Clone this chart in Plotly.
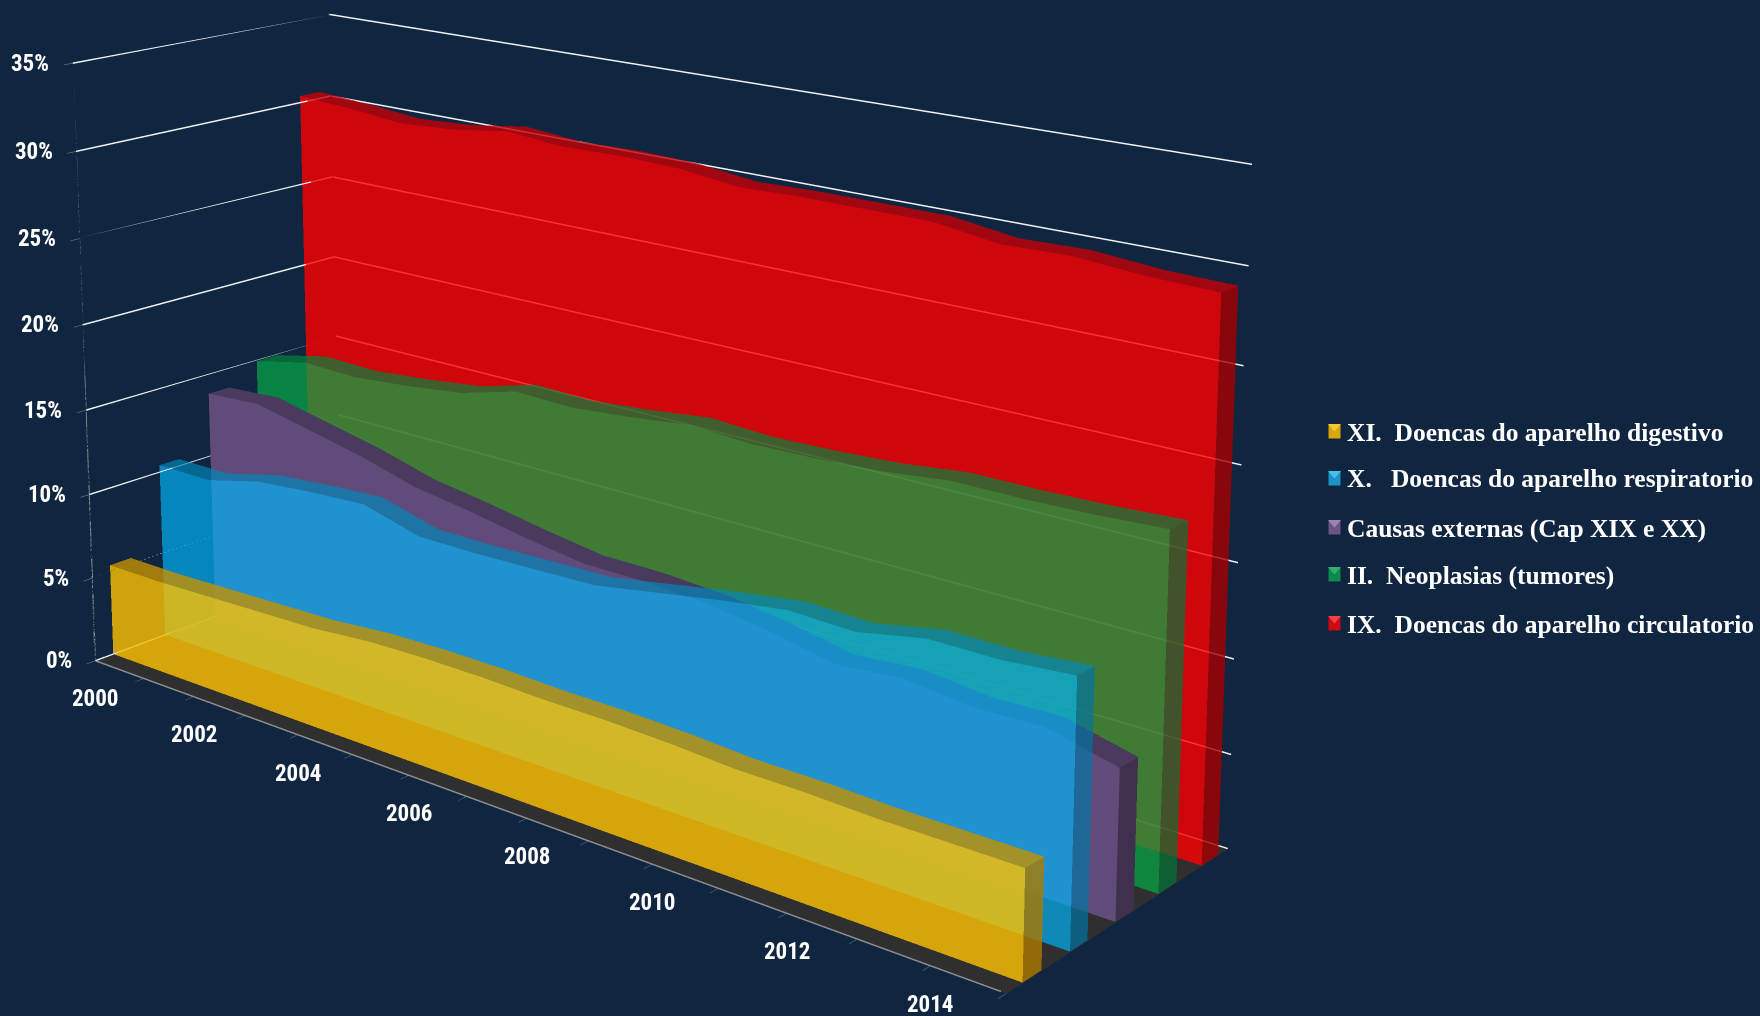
import plotly.graph_objects as go

years = list(range(2000, 2016))
xi_digestivo = [5.4, 5.4, 5.5, 5.6, 5.7, 6.0, 6.1, 6.1, 6.0, 6.0, 5.9, 5.7, 5.7, 5.6, 5.6, 5.6]
x_respiratorio = [10.4, 10.4, 11.2, 11.5, 11.7, 10.8, 10.8, 10.9, 11.0, 11.6, 12.2, 12.7, 12.6, 13.3, 13.3, 13.6]
causas_externas = [13.8, 14.0, 13.3, 12.6, 11.7, 11.2, 10.6, 10.1, 10.1, 9.9, 9.4, 8.7, 9.0, 8.6, 8.7, 7.8]
ii_neoplasias = [14.9, 15.6, 15.5, 15.8, 16.2, 17.1, 17.0, 17.3, 17.7, 17.5, 17.6, 17.8, 18.2, 18.2, 18.3, 18.5]
ix_circulatorio = [30.4, 30.2, 29.9, 30.1, 30.6, 30.3, 30.4, 30.3, 29.9, 30.0, 30.0, 30.0, 29.5, 29.6, 29.3, 29.2]
z_ticks = [0, 5, 10, 15, 20, 25, 30, 35]
x_labels = [2000, 2002, 2004, 2006, 2008, 2010, 2012, 2014]
names = ["XI.\u00a0 Doencas do aparelho digestivo", "X.\u00a0\u00a0 Doencas do aparelho respiratorio",
         "Causas externas (Cap XIX e XX)", "II.\u00a0 Neoplasias (tumores)", "IX.\u00a0 Doencas do aparelho circulatorio"]

BG = "#10253F"
# value list, depth start/end, front/top/side colour, opacity  (drawn back to front)
series = [
    (ix_circulatorio, 0.872, 0.953, "#FF0000", "#C40006", "#A50000", 0.8),
    (ii_neoplasias, 0.666, 0.751, "#03AC46", "#02833B", "#027436", 0.7),
    (causas_externas, 0.469, 0.551, "#604B7A", "#4A3A5E", "#40304F", 1.0),
    (x_respiratorio, 0.269, 0.345, "#00B4F7", "#0087BB", "#0074A5", 0.68),
    (xi_digestivo, 0.068, 0.147, "#FFC200", "#C49100", "#AB7A00", 0.8),
]
gx, gy, gz = [], [], []
for t in z_ticks:
    gx += [years[0], years[0], years[-1], None]
    gy += [0, 1, 1, None]
    gz += [t, t, t, None]
data = [
    go.Scatter3d(x=gx, y=gy, z=gz, mode='lines', line=dict(color="#F2F2F2", width=3), hoverinfo='skip', showlegend=False),
    go.Scatter3d(x=[years[0], years[0], None, years[0], years[-1]], y=[0, 0, None, 0, 0], z=[0, 35, None, 0, 0], mode='lines',
                 line=dict(color="#8C8C8C", width=3), hoverinfo='skip', showlegend=False),
]
n = len(years)
for z, vf, vb, cf, ct, cs, op in series:
    x = years + years + years + [years[-1]]
    y = [vf] * n + [vf] * n + [vb] * n + [vb]
    zz = [0] * n + z + z + [0]
    I, J, K, col = [], [], [], []
    for a in range(n - 1):
        I += [a, a]; J += [a + 1, n + a + 1]; K += [n + a + 1, n + a]; col += [cf, cf]
        I += [n + a, n + a]; J += [n + a + 1, 2 * n + a + 1]; K += [2 * n + a + 1, 2 * n + a]; col += [ct, ct]
    I += [n - 1, n - 1]; J += [3 * n, 3 * n - 1]; K += [3 * n - 1, 2 * n - 1]; col += [cs, cs]
    data.append(go.Mesh3d(x=x, y=y, z=zz, i=I, j=J, k=K, facecolor=col, opacity=op, flatshading=True, hoverinfo='skip',
                          lighting=dict(ambient=1, diffuse=0, specular=0, roughness=1, fresnel=0), showscale=False))

W, H, OFF = 1760, 2667, 1260
def py(p):
    return 1 - (p + OFF) / H
ann, shapes = [], []
for t, yy, c, c2 in zip(names, [432, 479, 528, 575, 624],
                        ["#D9A60C", "#1B92C7", "#6D5488", "#0E8A4D", "#CE0A14"],
                        ["#F0C83A", "#45C0E8", "#9A86B4", "#2FB070", "#F04048"]):
    ann.append(dict(text=t, x=1345 / W, y=py(yy), xref='paper', yref='paper', xanchor='left', yanchor='middle', showarrow=False,
                    font=dict(family="Liberation Serif", size=25.5, color="white", weight=700)))
    x0, x1, y0, y1 = 1328 / W, 1341 / W, py(yy + 7), py(yy - 8)
    shapes.append(dict(type='rect', xref='paper', yref='paper', x0=x0, x1=x1, y0=y0, y1=y1, fillcolor=c, line=dict(color=BG, width=1)))
    shapes.append(dict(type='path', xref='paper', yref='paper', path="M %f %f L %f %f L %f %f Z" % (x0, y1, x1, y1, (x0 + x1) / 2, (y0 + y1) / 2), fillcolor=c2, line=dict(width=0)))
scene_ann = []
lf = dict(family="Roboto Condensed, Liberation Sans", size=23, color="white", weight=700)
for t in z_ticks:
    scene_ann.append(dict(x=2000.01, y=0, z=t, text="%d%%" % t, showarrow=False, xanchor='right', xshift=-22, font=lf))
for t in x_labels:
    scene_ann.append(dict(x=t + 0.01, y=0, z=0, text=str(t), showarrow=False, xanchor='center', yshift=-38, font=lf))

fig = go.Figure(data)
ax0 = dict(showbackground=False, showgrid=False, zeroline=False, showspikes=False, title=dict(text=""), showticklabels=False)
fig.update_layout(width=W, height=H, margin=dict(l=0, r=0, t=0, b=0, pad=0), paper_bgcolor=BG, plot_bgcolor=BG, showlegend=False,
    annotations=ann, shapes=shapes,
    scene=dict(domain=dict(x=[0, 2 * 680.354 / W], y=[0, 1]), bgcolor=BG, aspectmode='manual', aspectratio=dict(x=1.796, y=0.562, z=1),
        annotations=scene_ann,
        camera=dict(eye=dict(x=3.028, y=-3.512, z=1.485), center=dict(x=-0.096, y=0.257, z=0.503), up=dict(x=0, y=0, z=1), projection=dict(type='perspective')),
        xaxis=dict(ax0, range=[2000, 2015.01], tickvals=years, ticks='outside', ticklen=8, tickcolor="#8C8C8C", showline=False),
        yaxis=dict(ax0, range=[0, 1], showline=False, ticks=''),
        zaxis=dict(ax0, range=[0, 35], tickvals=z_ticks, showline=False, ticks='outside', ticklen=8, tickcolor="#8C8C8C", showbackground=True, backgroundcolor="#2F2F2F")))
post = "var g=document.getElementById('{plot_id}');document.documentElement.style.overflow='hidden';document.body.style.margin='0';document.body.style.overflow='hidden';document.body.style.height='1016px';g.style.marginTop='-%dpx';" % OFF
fig.write_html("out.html", post_script=post)
